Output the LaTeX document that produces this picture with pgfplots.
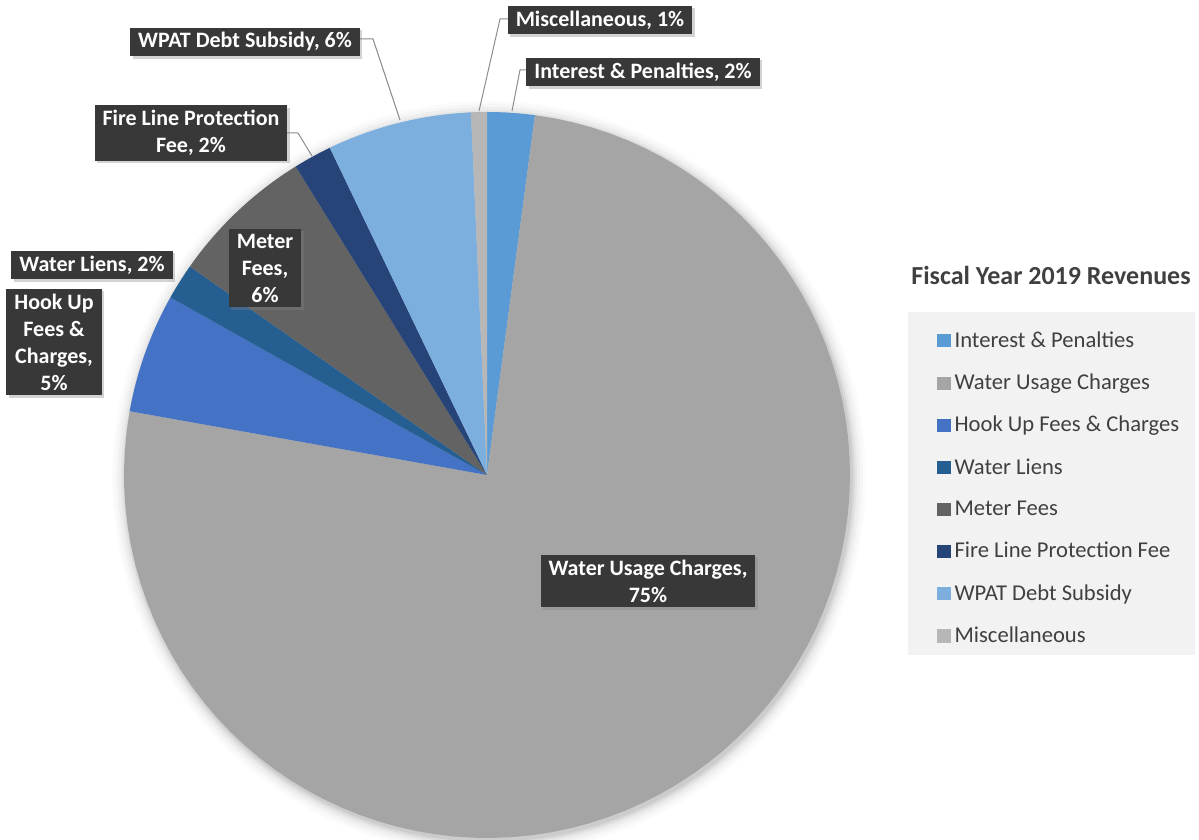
\documentclass[border=0pt]{standalone}
\usepackage{fontspec}
\setmainfont{Carlito}
\usepackage{pgfplots}
\pgfplotsset{compat=1.18}
\usepackage{pgfplotstable}
\usetikzlibrary{shadows}

\definecolor{cInt}{HTML}{5B9BD5}
\definecolor{cWat}{HTML}{A5A5A5}
\definecolor{cHook}{HTML}{4472C4}
\definecolor{cLien}{HTML}{255E91}
\definecolor{cMet}{HTML}{636363}
\definecolor{cFire}{HTML}{264478}
\definecolor{cWpat}{HTML}{7CAFDD}
\definecolor{cMisc}{HTML}{B7B7B7}
\definecolor{lblbox}{HTML}{383838}
\definecolor{txtgray}{HTML}{404040}
\definecolor{leader}{HTML}{8C8C8C}

% Fiscal Year 2019 revenue shares (percent), clockwise from 12 o'clock
\pgfplotstableread{
idx value
0 2.1
1 75.4
2 5.3
3 1.6
4 6.4
5 1.7
6 6.4
7 0.7
}\revtable

\def\total{0}
\pgfplotsforeachungrouped \i in {0,...,7}{%
  \pgfplotstablegetelem{\i}{value}\of\revtable
  \pgfmathsetmacro\total{\total+\pgfplotsretval}%
}
\def\cum{0}
\pgfplotsforeachungrouped \i in {0,...,7}{%
  \pgfplotstablegetelem{\i}{value}\of\revtable
  \pgfmathsetmacro\angstart{90-(\cum/\total)*360}%
  \pgfmathsetmacro\cum{\cum+\pgfplotsretval}%
  \pgfmathsetmacro\angend{90-(\cum/\total)*360}%
  \expandafter\xdef\csname sA\i\endcsname{\angstart}%
  \expandafter\xdef\csname sB\i\endcsname{\angend}%
}

\newcommand\pieslice[2]{%
  \addplot[fill=#2, draw=none, domain={\csname sB#1\endcsname}:{\csname sA#1\endcsname},
    samples=90, variable=\t]
    ({487+363*cos(\t)}, {365+363*sin(\t)}) -- (487,365) -- cycle;
}
\newcommand\shadowring[2]{%
  \addplot[fill=black, fill opacity=#2, draw=none, domain=0:360, samples=120, variable=\t, forget plot]
    ({489+(363+#1)*cos(\t)}, {362+(363+#1)*sin(\t)}) -- cycle;
}

\begin{document}
\begin{tikzpicture}[
  lbl/.style={fill=lblbox, text=white, font=\bfseries\fontsize{11}{13.5}\selectfont,
    align=center, inner xsep=4pt, inner ysep=2.5pt,
    drop shadow={opacity=0.35, shadow xshift=1.2pt, shadow yshift=-1.2pt}},
  ld/.style={draw=leader, line width=0.5pt}]
\begin{axis}[
  x=0.5pt, y=0.5pt,
  xmin=0, xmax=1199, ymin=0, ymax=840,
  hide axis, clip=false,
  legend image code/.code={\fill[#1] (0pt,-3.3pt) rectangle (6.6pt,3.3pt);},
  legend style={at={(axis cs:937,527)}, anchor=north west,
    fill=none, draw=none,
    font=\fontsize{11.3}{13}\selectfont\color{txtgray},
    inner xsep=0pt, inner ysep=7pt,
    row sep=7.85pt,
    /tikz/every even column/.append style={column sep=0pt},
    cells={anchor=west}},
  legend cell align=left,
]
\path (0,0) rectangle (1199,840);
\coordinate (BL) at (0,0);
\coordinate (TR) at (1199,840);
% legend background panel
\fill[black!5] (908,185) rectangle (1195,528);
% soft shadow around the pie
\shadowring{14}{0.015}
\shadowring{11}{0.02}
\shadowring{8}{0.03}
\shadowring{5}{0.04}
\shadowring{3}{0.05}
\shadowring{1}{0.06}

\pieslice{0}{cInt}\addlegendentry{Interest \& Penalties}
\pieslice{1}{cWat}\addlegendentry{Water Usage Charges}
\pieslice{2}{cHook}\addlegendentry{Hook Up Fees \& Charges}
\pieslice{3}{cLien}\addlegendentry{Water Liens}
\pieslice{4}{cMet}\addlegendentry{Meter Fees}
\pieslice{5}{cFire}\addlegendentry{Fire Line Protection Fee}
\pieslice{6}{cWpat}\addlegendentry{WPAT Debt Subsidy}
\pieslice{7}{cMisc}\addlegendentry{Miscellaneous}

% leader lines
\draw[ld] (508,821) -- (500,821) -- (479,729);
\draw[ld] (527,770) -- (520,770) -- (512,729);
\draw[ld] (360,801) -- (373,801) -- (400,720);
\draw[ld] (287,707) -- (298,707) -- (312,684);

% data labels
\node[lbl] at (600,820) {Miscellaneous, 1\%};
\node[lbl] at (643,768) {Interest \& Penalties, 2\%};
\node[lbl] at (245,798) {WPAT Debt Subsidy, 6\%};
\node[lbl] at (191,707) {Fire Line Protection\\Fee, 2\%};
\node[lbl] at (265,572) {Meter\\Fees,\\6\%};
\node[lbl] at (92,575) {Water Liens, 2\%};
\node[lbl] at (54,498) {Hook Up\\Fees \&\\Charges,\\5\%};
\node[lbl] at (648,259) {Water Usage Charges,\\75\%};

% legend title
\node[font=\bfseries\fontsize{13}{15}\selectfont, text=txtgray] at (1051,565) {Fiscal Year 2019 Revenues};
\end{axis}
\pgfresetboundingbox
\path (BL) rectangle (TR);
\end{tikzpicture}
\end{document}
